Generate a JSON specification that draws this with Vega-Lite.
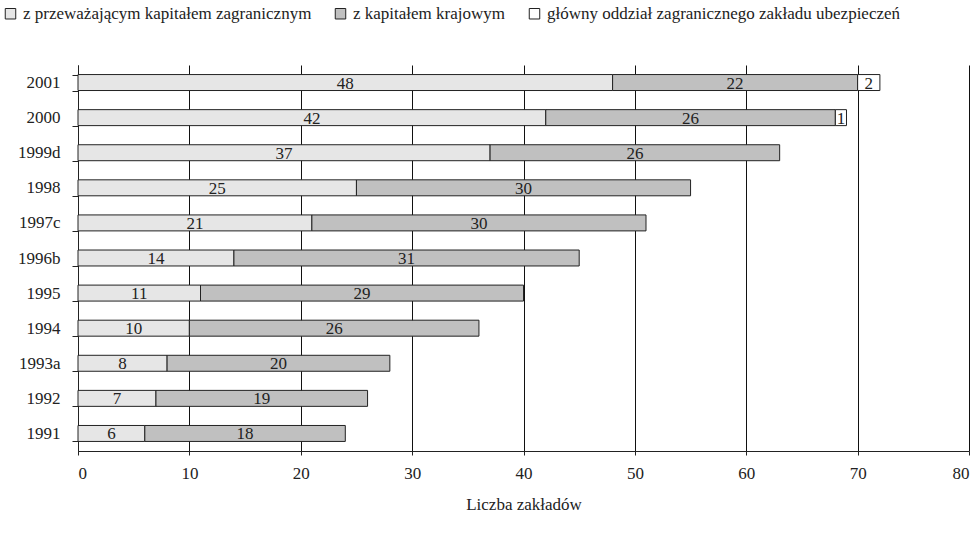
{
  "$schema": "https://vega.github.io/schema/vega-lite/v6.json",
  "width": 891,
  "height": 386,
  "autosize": {"type": "none"},
  "padding": {"left": 78, "top": 65, "right": 10, "bottom": 86},
  "background": "white",
  "config": {
    "font": "Times New Roman, Liberation Serif, serif",
    "view": {"stroke": null},
    "text": {"font": "Times New Roman, Liberation Serif, serif"},
    "axis": {"labelFont": "Times New Roman, Liberation Serif, serif", "titleFont": "Times New Roman, Liberation Serif, serif", "labelColor": "#222", "titleColor": "#222"},
    "legend": {"labelFont": "Times New Roman, Liberation Serif, serif"}
  },
  "data": {
    "values": [
      {"rok": "2001", "s": "z przeważającym kapitałem zagranicznym", "v": 48},
      {"rok": "2001", "s": "z kapitałem krajowym", "v": 22},
      {"rok": "2001", "s": "główny oddział zagranicznego zakładu ubezpieczeń", "v": 2},
      {"rok": "2000", "s": "z przeważającym kapitałem zagranicznym", "v": 42},
      {"rok": "2000", "s": "z kapitałem krajowym", "v": 26},
      {"rok": "2000", "s": "główny oddział zagranicznego zakładu ubezpieczeń", "v": 1},
      {"rok": "1999d", "s": "z przeważającym kapitałem zagranicznym", "v": 37},
      {"rok": "1999d", "s": "z kapitałem krajowym", "v": 26},
      {"rok": "1998", "s": "z przeważającym kapitałem zagranicznym", "v": 25},
      {"rok": "1998", "s": "z kapitałem krajowym", "v": 30},
      {"rok": "1997c", "s": "z przeważającym kapitałem zagranicznym", "v": 21},
      {"rok": "1997c", "s": "z kapitałem krajowym", "v": 30},
      {"rok": "1996b", "s": "z przeważającym kapitałem zagranicznym", "v": 14},
      {"rok": "1996b", "s": "z kapitałem krajowym", "v": 31},
      {"rok": "1995", "s": "z przeważającym kapitałem zagranicznym", "v": 11},
      {"rok": "1995", "s": "z kapitałem krajowym", "v": 29},
      {"rok": "1994", "s": "z przeważającym kapitałem zagranicznym", "v": 10},
      {"rok": "1994", "s": "z kapitałem krajowym", "v": 26},
      {"rok": "1993a", "s": "z przeważającym kapitałem zagranicznym", "v": 8},
      {"rok": "1993a", "s": "z kapitałem krajowym", "v": 20},
      {"rok": "1992", "s": "z przeważającym kapitałem zagranicznym", "v": 7},
      {"rok": "1992", "s": "z kapitałem krajowym", "v": 19},
      {"rok": "1991", "s": "z przeważającym kapitałem zagranicznym", "v": 6},
      {"rok": "1991", "s": "z kapitałem krajowym", "v": 18}
    ]
  },
  "transform": [
    {"stack": "v", "groupby": ["rok"], "sort": [{"field": "s", "order": "descending"}], "as": ["x0", "x1"]},
    {"calculate": "(datum.x0 + datum.x1) / 2", "as": "xm"}
  ],
  "encoding": {
    "y": {
      "field": "rok",
      "type": "nominal",
      "scale": {
        "domain": ["2001", "2000", "1999d", "1998", "1997c", "1996b", "1995", "1994", "1993a", "1992", "1991"],
        "paddingInner": 0.545,
        "paddingOuter": 0.2725
      },
      "axis": {
        "title": null,
        "tickBand": "extent",
        "tickSize": 6,
        "tickColor": "#222",
        "domainColor": "#222",
        "labelFontSize": 17,
        "labelPadding": 12,
        "grid": false
      }
    }
  },
  "layer": [
    {
      "mark": {"type": "bar", "stroke": "#222", "strokeWidth": 1},
      "encoding": {
        "x": {
          "field": "x0",
          "type": "quantitative",
          "scale": {"domain": [0, 80], "nice": false},
          "axis": {
            "title": "Liczba zakładów",
            "values": [0, 10, 20, 30, 40, 50, 60, 70, 80],
            "grid": true,
            "gridColor": "#111",
            "gridOpacity": 1,
            "gridWidth": 1,
            "tickSize": 4,
            "tickColor": "#222",
            "domainColor": "#222",
            "labelFontSize": 17,
            "labelPadding": 10,
            "titleFontSize": 17,
            "titleFontWeight": "normal",
            "titlePadding": 15
          }
        },
        "x2": {"field": "x1"},
        "fill": {
          "field": "s",
          "type": "nominal",
          "scale": {
            "domain": ["z przeważającym kapitałem zagranicznym", "z kapitałem krajowym", "główny oddział zagranicznego zakładu ubezpieczeń"],
            "range": ["#e6e6e6", "#c0c0c0", "#ffffff"]
          },
          "legend": {
            "title": null,
            "orient": "none",
            "legendX": -76,
            "legendY": -60,
            "direction": "horizontal",
            "symbolType": "square",
            "symbolSize": 110,
            "symbolStrokeColor": "#222",
            "symbolStrokeWidth": 1,
            "labelFontSize": 17,
            "labelColor": "#222",
            "labelOffset": 4,
            "columnPadding": 20,
            "labelLimit": 500
          }
        }
      }
    },
    {
      "mark": {"type": "text", "fontSize": 17, "color": "#222", "baseline": "middle", "align": "center", "dy": 1},
      "encoding": {
        "x": {"field": "xm", "type": "quantitative"},
        "text": {"field": "v", "type": "quantitative"}
      }
    }
  ]
}
